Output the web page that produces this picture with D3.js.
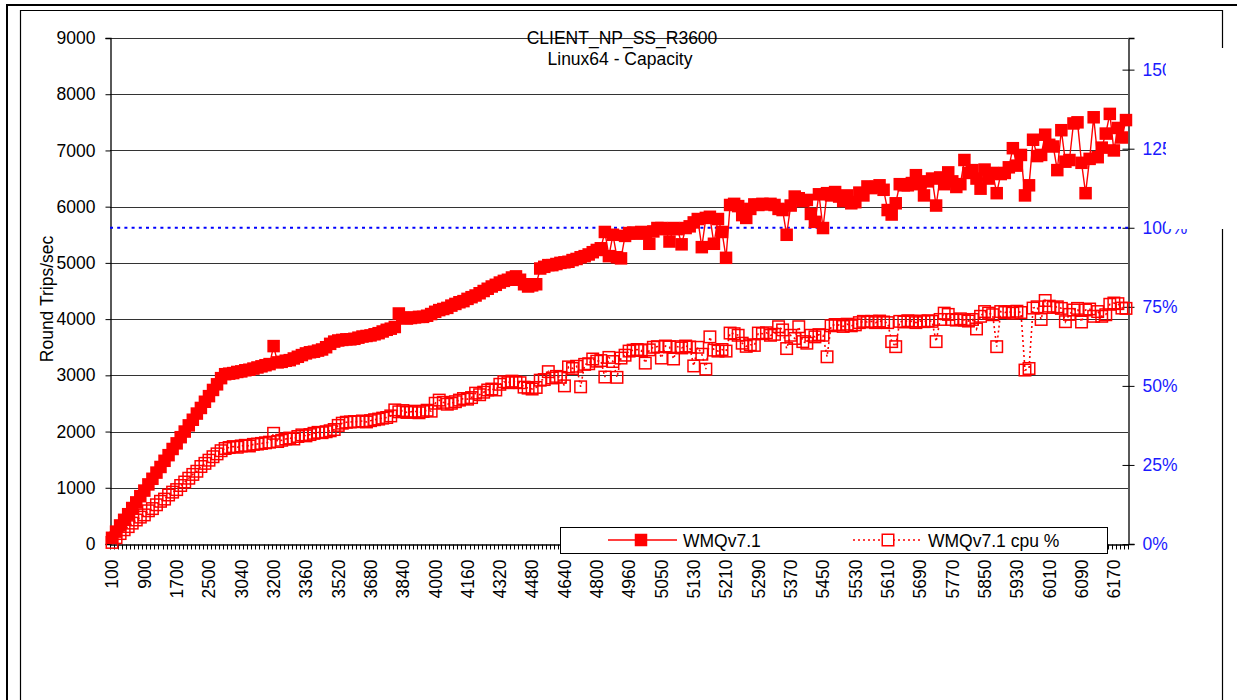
<!DOCTYPE html>
<html>
<head>
<meta charset="utf-8">
<script src="https://cdn.jsdelivr.net/npm/d3@7"></script>
<style>
  body { margin: 0; background: #fff; }
  svg { display: block; }
  text { font-family: "Liberation Sans", Arial, sans-serif; }
</style>
</head>
<body>
<svg id="chart" width="1237" height="700"></svg>
<script>
// Client count / rate categories along the x axis
const categories = [
  100,200,300,400,500,600,700,800,900,1000,
  1100,1200,1300,1400,1500,1600,1700,1800,1900,2000,
  2100,2200,2300,2400,2500,2600,2700,2800,2900,2950,
  3000,3020,3040,3060,3080,3100,3120,3140,3160,3180,
  3200,3220,3240,3260,3280,3300,3320,3340,3360,3380,
  3400,3420,3440,3460,3480,3500,3520,3540,3560,3580,
  3600,3620,3640,3660,3680,3700,3720,3740,3760,3780,
  3800,3820,3840,3860,3880,3900,3920,3940,3960,3980,
  4000,4020,4040,4060,4080,4100,4120,4140,4160,4180,
  4200,4220,4240,4260,4280,4300,4320,4340,4360,4380,
  4400,4420,4440,4460,4480,4500,4520,4540,4560,4580,
  4600,4620,4640,4660,4680,4700,4720,4740,4760,4780,
  4800,4820,4840,4860,4880,4900,4920,4940,4960,4970,
  4980,5000,5010,5020,5030,5040,5050,5060,5070,5080,
  5090,5100,5110,5120,5130,5140,5150,5160,5170,5180,
  5190,5200,5210,5220,5230,5240,5250,5260,5270,5280,
  5290,5300,5310,5320,5330,5340,5350,5360,5370,5380,
  5390,5400,5410,5420,5430,5440,5450,5460,5470,5480,
  5490,5500,5510,5520,5530,5540,5550,5560,5570,5580,
  5590,5600,5610,5620,5630,5640,5650,5660,5670,5680,
  5690,5700,5710,5720,5730,5740,5750,5760,5770,5780,
  5790,5800,5810,5820,5830,5840,5850,5860,5870,5880,
  5890,5900,5910,5920,5930,5940,5950,5960,5970,5980,
  5990,6000,6010,6020,6030,6040,6050,6060,6070,6080,
  6090,6100,6110,6120,6130,6140,6150,6160,6170,6180,
  6190,6200
];

// Round trips per second (left axis)
const roundTrips = [
  110,220,330,430,530,640,740,850,950,1060,
  1160,1270,1370,1480,1580,1690,1790,1900,2000,2110,
  2210,2320,2420,2530,2630,2740,2840,2950,3020,3030,
  3040,3060,3070,3090,3100,3120,3140,3160,3180,3200,
  3520,3230,3240,3260,3270,3300,3330,3360,3390,3410,
  3420,3440,3460,3500,3560,3600,3620,3630,3640,3640,
  3650,3670,3690,3700,3710,3730,3750,3780,3810,3830,
  3860,4100,4030,4010,4020,4030,4040,4040,4060,4090,
  4130,4160,4180,4200,4240,4270,4300,4320,4360,4390,
  4420,4460,4500,4540,4580,4610,4650,4680,4700,4740,
  4760,4700,4620,4580,4600,4620,4900,4930,4960,4960,
  4980,5000,5010,5020,5050,5070,5100,5120,5150,5190,
  5230,5260,5550,5120,5500,5100,5080,5480,5530,5540,
  5520,5550,5540,5340,5560,5620,5620,5600,5380,5620,
  5600,5330,5620,5650,5720,5780,5280,5800,5820,5340,
  5780,5550,5090,6030,6050,6010,5850,5800,5960,6040,
  6030,6050,6040,6050,6030,5960,5940,5500,6020,6180,
  6150,6100,6120,5870,5730,6220,5620,6240,6200,6260,
  6180,6100,6200,6060,6080,6250,6200,6360,6330,6350,
  6380,6300,5940,5860,6060,6400,6380,6380,6420,6560,
  6400,6200,6450,6500,6020,6520,6400,6610,6450,6350,
  6400,6830,6600,6650,6500,6320,6660,6500,6600,6240,
  6580,6600,6700,7040,6730,6920,6200,6380,7190,6900,
  6920,7280,7100,7070,6650,7360,6800,6830,7480,7500,
  6780,6240,6850,7590,6880,7050,7300,7650,7000,7400,
  7230,7540
];

// CPU utilisation in percent (right axis)
const cpuPercent = [
  0.5,2.0,3.3,4.5,5.5,6.6,7.6,8.5,9.2,10.5,
  11.2,12.4,13.5,14.2,15.5,16.4,17.2,18.5,19.6,20.8,
  22.0,23.0,24.5,25.5,26.5,27.6,28.5,29.5,30.2,30.5,
  30.8,30.6,31.0,31.2,31.0,31.5,31.6,31.8,32.0,32.2,
  35.0,32.4,32.8,33.2,33.5,33.2,34.0,34.5,34.2,34.6,
  35.0,35.3,35.2,35.5,35.8,36.2,37.5,38.2,38.5,38.6,
  38.7,38.7,38.9,38.6,39.0,39.3,39.5,39.8,40.0,40.5,
  42.4,41.8,42.2,41.6,41.8,42.0,41.5,41.9,42.3,42.0,
  44.5,45.5,44.8,44.2,44.5,45.0,45.5,46.0,45.8,46.3,
  47.7,47.2,48.0,48.7,49.0,48.7,50.5,51.3,51.0,51.5,
  51.2,51.0,49.6,49.3,49.0,49.5,51.8,52.0,54.5,52.5,
  53.0,52.7,50.0,56.0,55.5,56.2,49.7,56.8,57.0,58.5,
  57.8,58.0,52.8,59.0,57.7,52.7,58.8,59.7,61.0,61.3,
  61.5,61.2,57.2,61.4,62.2,62.4,58.8,62.6,62.3,58.5,
  62.4,62.0,62.6,62.3,56.3,62.2,60.0,55.3,65.5,61.3,
  61.0,61.5,61.0,66.7,66.5,66.0,63.5,62.5,63.0,62.8,
  66.7,66.5,66.8,66.0,66.3,68.7,67.7,61.8,66.0,65.0,
  68.7,64.0,63.5,66.0,65.5,66.2,66.0,59.2,69.0,69.4,
  69.2,68.8,69.5,69.0,69.3,70.0,70.4,70.2,70.4,70.0,
  70.5,70.2,70.0,64.0,62.4,70.4,70.2,70.6,70.4,70.0,
  70.5,70.3,70.6,70.4,64.0,71.0,73.0,72.6,71.0,70.8,
  71.2,70.8,70.5,71.0,68.0,72.0,73.5,73.0,72.5,62.4,
  73.5,73.2,73.5,73.0,73.6,73.2,55.0,55.5,74.6,75.0,
  71.0,77.0,75.2,74.8,75.0,74.5,70.3,72.6,74.0,74.5,
  70.2,74.0,74.3,72.0,73.5,72.0,72.5,75.8,76.2,76.0,
  74.6,74.5
];

const leftTicks = [0,1000,2000,3000,4000,5000,6000,7000,8000,9000];
const rightTicks = [0,25,50,75,100,125,150];
const labelEvery = 8;
const cpuLimit = 100;
const titleLines = ["CLIENT_NP_SS_R3600", "Linux64 - Capacity"];
const yTitle = "Round Trips/sec";
const seriesNames = ["WMQv7.1", "WMQv7.1 cpu %"];

const RED = "#ff0000";
const BLUE = "#1a1aff";
const FONT = 17.5;

const svg = d3.select("#chart");

// page frame
svg.append("rect").attr("x", 6).attr("y", 4).attr("width", 1231).attr("height", 2).attr("fill", "#000");
svg.append("rect").attr("x", 6).attr("y", 4).attr("width", 2).attr("height", 696).attr("fill", "#000");
const frame = svg.append("g").attr("stroke", "#000").attr("stroke-width", 1.2).attr("fill", "none");
frame.append("line").attr("x1", 20.5).attr("x2", 20.5).attr("y1", 10).attr("y2", 700);
frame.append("line").attr("x1", 20).attr("x2", 1223).attr("y1", 10.5).attr("y2", 10.5);
frame.append("line").attr("x1", 1222.5).attr("x2", 1222.5).attr("y1", 10).attr("y2", 48);
frame.append("line").attr("x1", 1222.5).attr("x2", 1222.5).attr("y1", 229).attr("y2", 700);

const plot = { left: 110, right: 1128, top: 38, bottom: 544 };
const idx = d3.range(categories.length);

const x = d3.scaleBand().domain(idx).range([plot.left, plot.right]).padding(0);
const xc = i => x(i) + x.bandwidth() / 2;
const yL = d3.scaleLinear().domain([0, 9000]).range([plot.bottom, plot.top]);
const yR = d3.scaleLinear().domain([0, 160]).range([plot.bottom, plot.top]);

// horizontal gridlines
svg.append("g").selectAll("line").data(leftTicks.filter(d => d > 0)).join("line")
  .attr("x1", plot.left).attr("x2", plot.right)
  .attr("y1", d => Math.round(yL(d)) + 0.5).attr("y2", d => Math.round(yL(d)) + 0.5)
  .attr("stroke", "#333").attr("stroke-width", 1.1);

// left axis
const axL = svg.append("g").attr("transform", `translate(${plot.left + 0.5},0)`)
  .call(d3.axisLeft(yL).tickValues(leftTicks).tickSize(5).tickPadding(10).tickFormat(d3.format("d")));
axL.select(".domain").attr("stroke", "#000").attr("stroke-width", 1.3);
axL.selectAll(".tick line").attr("stroke", "#000");
axL.selectAll("text").attr("font-size", FONT).attr("fill", "#000").attr("font-family", null);

// right axis with cross ticks
const axR = svg.append("g").attr("transform", `translate(${plot.right + 0.5},0)`)
  .call(d3.axisRight(yR).tickValues(rightTicks).tickSize(6).tickPadding(8).tickFormat(d => d + "%"));
axR.select(".domain").attr("stroke", "#000").attr("stroke-width", 1.3);
axR.selectAll(".tick line").attr("x1", -6).attr("stroke", "#000");
axR.selectAll("text").attr("font-size", FONT).attr("fill", BLUE).attr("font-family", null);

// bottom axis: a tick per category, a label every few
const axB = svg.append("g").attr("transform", `translate(0,${plot.bottom + 0.5})`)
  .call(d3.axisBottom(x).tickValues(idx.filter(i => i % labelEvery === 0))
    .tickSize(0).tickFormat(i => categories[i]));
axB.select(".domain").attr("stroke", "#000").attr("stroke-width", 1.3);
axB.selectAll("text")
  .attr("font-size", FONT).attr("fill", "#000").attr("font-family", null)
  .attr("transform", "rotate(-90)")
  .attr("x", -15).attr("y", 0).attr("dy", "0.36em")
  .style("text-anchor", "end");
axB.append("g").selectAll("line").data(d3.range(categories.length + 1)).join("line")
  .attr("x1", i => Math.round(plot.left + i * x.step()) + 0.5)
  .attr("x2", i => Math.round(plot.left + i * x.step()) + 0.5)
  .attr("y1", 0).attr("y2", 5)
  .attr("stroke", "#000").attr("stroke-width", 1);

// 100% cpu reference line
svg.append("line")
  .attr("x1", plot.left).attr("x2", plot.right)
  .attr("y1", yR(cpuLimit)).attr("y2", yR(cpuLimit))
  .attr("stroke", "#0000ff").attr("stroke-width", 2.2).attr("stroke-dasharray", "3,4.2");

// round trips series
svg.append("path").datum(idx)
  .attr("d", d3.line().x(xc).y(i => yL(roundTrips[i])))
  .attr("fill", "none").attr("stroke", RED).attr("stroke-width", 1.4);
const MS = 12.5;
svg.append("g").selectAll("rect").data(idx).join("rect")
  .attr("x", i => xc(i) - MS / 2).attr("y", i => yL(roundTrips[i]) - MS / 2)
  .attr("width", MS).attr("height", MS).attr("fill", RED);

// cpu series
svg.append("path").datum(idx)
  .attr("d", d3.line().x(xc).y(i => yR(cpuPercent[i])))
  .attr("fill", "none").attr("stroke", RED).attr("stroke-width", 1.6).attr("stroke-dasharray", "2,3");
const HS = 11.5;
svg.append("g").selectAll("rect").data(idx).join("rect")
  .attr("x", i => xc(i) - HS / 2).attr("y", i => yR(cpuPercent[i]) - HS / 2)
  .attr("width", HS).attr("height", HS)
  .attr("fill", "none").attr("stroke", RED).attr("stroke-width", 1.5);

// titles
const tg = svg.append("g").attr("font-size", FONT).attr("fill", "#000").attr("text-anchor", "middle");
tg.append("text").attr("x", 622).attr("y", 44).text(titleLines[0]);
tg.append("text").attr("x", 620).attr("y", 65).text(titleLines[1]);
svg.append("text").attr("font-size", FONT).attr("text-anchor", "middle")
  .attr("transform", "translate(53,299) rotate(-90)").text(yTitle);

// legend
const lg = svg.append("g");
lg.append("rect").attr("x", 560.5).attr("y", 527.5).attr("width", 547).attr("height", 26)
  .attr("fill", "#fff").attr("stroke", "#000").attr("stroke-width", 1);
lg.append("line").attr("x1", 608).attr("x2", 677).attr("y1", 540).attr("y2", 540)
  .attr("stroke", RED).attr("stroke-width", 1.4);
lg.append("rect").attr("x", 641 - MS / 2).attr("y", 540 - MS / 2).attr("width", MS).attr("height", MS).attr("fill", RED);
lg.append("text").attr("x", 683).attr("y", 546.5).attr("font-size", FONT).text(seriesNames[0]);
lg.append("line").attr("x1", 853).attr("x2", 923).attr("y1", 540).attr("y2", 540)
  .attr("stroke", RED).attr("stroke-width", 1.6).attr("stroke-dasharray", "2,3");
lg.append("rect").attr("x", 888 - HS / 2).attr("y", 540 - HS / 2).attr("width", HS).attr("height", HS)
  .attr("fill", "#fff").attr("stroke", RED).attr("stroke-width", 1.5);
lg.append("text").attr("x", 928).attr("y", 546.5).attr("font-size", FONT).text(seriesNames[1]);

// the chart object's right edge hides part of the upper axis labels
svg.append("rect").attr("x", 1166).attr("y", 48).attr("width", 71).attr("height", 181).attr("fill", "#fff");
</script>
</body>
</html>
